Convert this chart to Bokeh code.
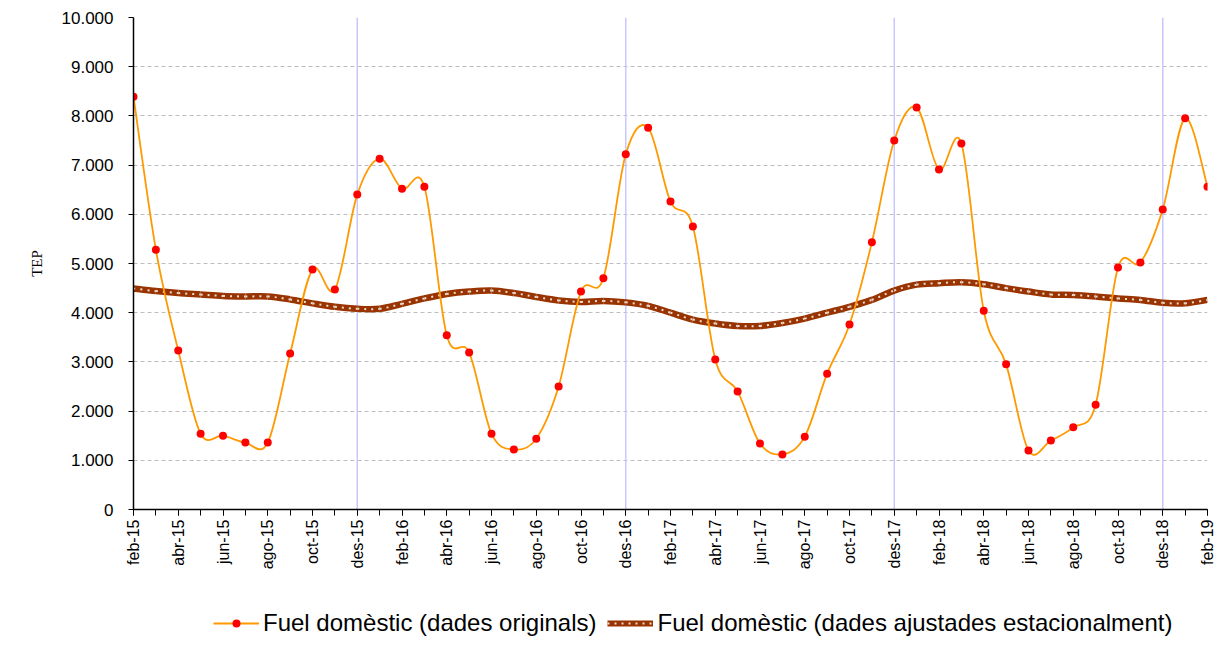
import math
from bokeh.plotting import figure
from bokeh.layouts import column
from bokeh.models import (ColumnDataSource, FixedTicker, Span, Legend, LegendItem, Range1d)
from bokeh.embed import file_html
from bokeh.resources import INLINE

months = ["gen", "feb", "mar", "abr", "mai", "jun", "jul", "ago", "set", "oct", "nov", "des"]
start_month, start_year, n_points = 1, 15, 49
labels = []
for i in range(n_points):
    m = (start_month + i) % 12
    y = start_year + (start_month + i) // 12
    labels.append(f"{months[m]}-{y}")

original = [8390, 5280, 3230, 1540, 1500, 1360, 1360, 3170, 4880, 4470, 6400, 7130,
            6520, 6560, 3540, 3190, 1540, 1220, 1440, 2500, 4430, 4700, 7220, 7760,
            6260, 5750, 3050, 2400, 1340, 1120, 1480, 2760, 3760, 5430, 7500, 8170,
            6910, 7440, 4040, 2950, 1200, 1400, 1670, 2130, 4920, 5020, 6100, 7950,
            6560]
adjusted = [4490, 4440, 4400, 4370, 4340, 4330, 4330, 4270, 4190, 4120, 4080, 4080,
            4180, 4290, 4380, 4430, 4450, 4400, 4320, 4250, 4220, 4240, 4210, 4140,
            4000, 3860, 3780, 3730, 3730, 3790, 3880, 4000, 4120, 4260, 4450, 4570,
            4600, 4620, 4580, 4500, 4430, 4370, 4360, 4330, 4290, 4260, 4200, 4190,
            4260]
series_names = ["Fuel domèstic (dades originals)",
                "Fuel domèstic (dades ajustades estacionalment)"]
y_ticks = list(range(0, 10001, 1000))

xs = list(range(n_points))

ORANGE, RED, BROWN, DOTS = "#FF9900", "#FF0000", "#993300", "#EADBD0"


def bezier_source(ys):
    n = len(ys)
    d = dict(x0=[], y0=[], x1=[], y1=[], cx0=[], cy0=[], cx1=[], cy1=[])
    for i in range(n - 1):
        xm1, ym1 = (xs[i - 1], ys[i - 1]) if i > 0 else (xs[i], ys[i])
        x2, y2 = (xs[i + 2], ys[i + 2]) if i + 2 < n else (xs[i + 1], ys[i + 1])
        d["x0"].append(xs[i]); d["y0"].append(ys[i])
        d["x1"].append(xs[i + 1]); d["y1"].append(ys[i + 1])
        d["cx0"].append(xs[i] + (xs[i + 1] - xm1) / 6)
        d["cy0"].append(ys[i] + (ys[i + 1] - ym1) / 6)
        d["cx1"].append(xs[i + 1] - (x2 - xs[i]) / 6)
        d["cy1"].append(ys[i + 1] - (y2 - ys[i]) / 6)
    return ColumnDataSource(d)


W = 1219
H_MAIN, H_LEG = 600, 37
p = figure(width=W, height=H_MAIN, output_backend="svg", toolbar_location=None,
           x_range=Range1d(0, n_points - 1), y_range=Range1d(0, 10000),
           min_border_left=133, min_border_right=12, min_border_top=17,
           min_border_bottom=H_MAIN - 509)
p.outline_line_color = None
p.background_fill_color = "white"
p.border_fill_color = "white"

# grid
p.xgrid.grid_line_color = None
p.ygrid.ticker = FixedTicker(ticks=y_ticks)
p.ygrid.grid_line_color = "#BDBDBD"
p.ygrid.grid_line_dash = "4 3"
p.ygrid.grid_line_width = 1

# December spans
for i, lab in enumerate(labels):
    if lab.startswith("des"):
        p.add_layout(Span(location=i, dimension="height", line_color="#C8C8FF",
                          line_width=1.5, level="underlay"))

# y axis
p.yaxis.ticker = FixedTicker(ticks=y_ticks)
p.yaxis.major_label_overrides = {v: f"{v:,}".replace(",", ".") for v in y_ticks}
p.yaxis.major_label_text_font = "Liberation Sans"
p.yaxis.major_label_text_font_size = "17px"
p.yaxis.major_label_text_color = "black"
p.yaxis.major_tick_out = 5
p.yaxis.major_tick_in = 0
p.yaxis.minor_tick_line_color = None
p.yaxis.major_label_standoff = 15
p.yaxis.axis_line_color = "black"
p.yaxis.axis_line_width = 1.5
p.yaxis.axis_label = "TEP"
p.yaxis.axis_label_text_font = "Liberation Serif"
p.yaxis.axis_label_text_font_style = "normal"
p.yaxis.axis_label_text_font_size = "15px"
p.yaxis.axis_label_text_color = "black"
p.yaxis.axis_label_standoff = 14

# x axis
p.xaxis.ticker = FixedTicker(ticks=xs[::2], minor_ticks=xs)
p.xaxis.major_label_overrides = {i: labels[i] for i in xs}
p.xaxis.major_label_orientation = math.pi / 2
p.xaxis.major_label_text_font = "Liberation Sans"
p.xaxis.major_label_text_font_size = "16px"
p.xaxis.major_label_text_color = "black"
p.xaxis.major_tick_out = 6
p.xaxis.major_tick_in = 0
p.xaxis.minor_tick_out = 6
p.xaxis.minor_tick_in = 0
p.xaxis.minor_tick_line_color = "black"
p.xaxis.major_label_standoff = 4
p.xaxis.axis_line_color = "black"
p.xaxis.axis_line_width = 1.5

# adjusted series (thick brown with light dots)
src_adj = bezier_source(adjusted)
p.bezier(x0="x0", y0="y0", x1="x1", y1="y1", cx0="cx0", cy0="cy0", cx1="cx1", cy1="cy1",
         source=src_adj, line_color=BROWN, line_width=6.5)
p.bezier(x0="x0", y0="y0", x1="x1", y1="y1", cx0="cx0", cy0="cy0", cx1="cx1", cy1="cy1",
         source=src_adj, line_color=DOTS, line_width=2, line_dash="2 5")

# original series
src_org = bezier_source(original)
p.bezier(x0="x0", y0="y0", x1="x1", y1="y1", cx0="cx0", cy0="cy0", cx1="cx1", cy1="cy1",
         source=src_org, line_color=ORANGE, line_width=1.8)
p.scatter(xs, original, size=8, color=RED, line_color=None)

# legend strip (separate figure; column aligns its frame with the main frame)
pl = figure(width=W, height=H_LEG, output_backend="svg", toolbar_location=None,
            x_range=Range1d(-1000, -999), y_range=Range1d(0, 10000),
            x_axis_type=None, y_axis_type=None,
            min_border_left=0, min_border_right=0, min_border_top=0, min_border_bottom=0)
pl.outline_line_color = None
pl.background_fill_color = "white"
pl.border_fill_color = "white"
pl.xgrid.grid_line_color = None
pl.ygrid.grid_line_color = None
g1 = pl.line(xs, original, line_color=ORANGE, line_width=2)
g1s = pl.scatter(xs, original, size=8, color=RED, line_color=None)
g2 = pl.line(xs, adjusted, line_color=BROWN, line_width=6)
g2d = pl.line(xs, adjusted, line_color=DOTS, line_width=2, line_dash="2 5")

legend = Legend(items=[
    LegendItem(label=series_names[0], renderers=[g1, g1s]),
    LegendItem(label=series_names[1], renderers=[g2, g2d]),
], orientation="horizontal", location=(80, 0))
legend.label_text_font = "Liberation Sans"
legend.label_text_font_size = "24px"
legend.label_text_color = "black"
legend.glyph_width = 46
legend.glyph_height = 20
legend.label_height = 20
legend.label_standoff = 4
legend.spacing = 11
legend.padding = 0
legend.margin = 0
legend.border_line_color = None
legend.background_fill_alpha = 0
pl.add_layout(legend, "center")

layout = column(p, pl, spacing=0)
open("out.html", "w").write(file_html(layout, INLINE))
